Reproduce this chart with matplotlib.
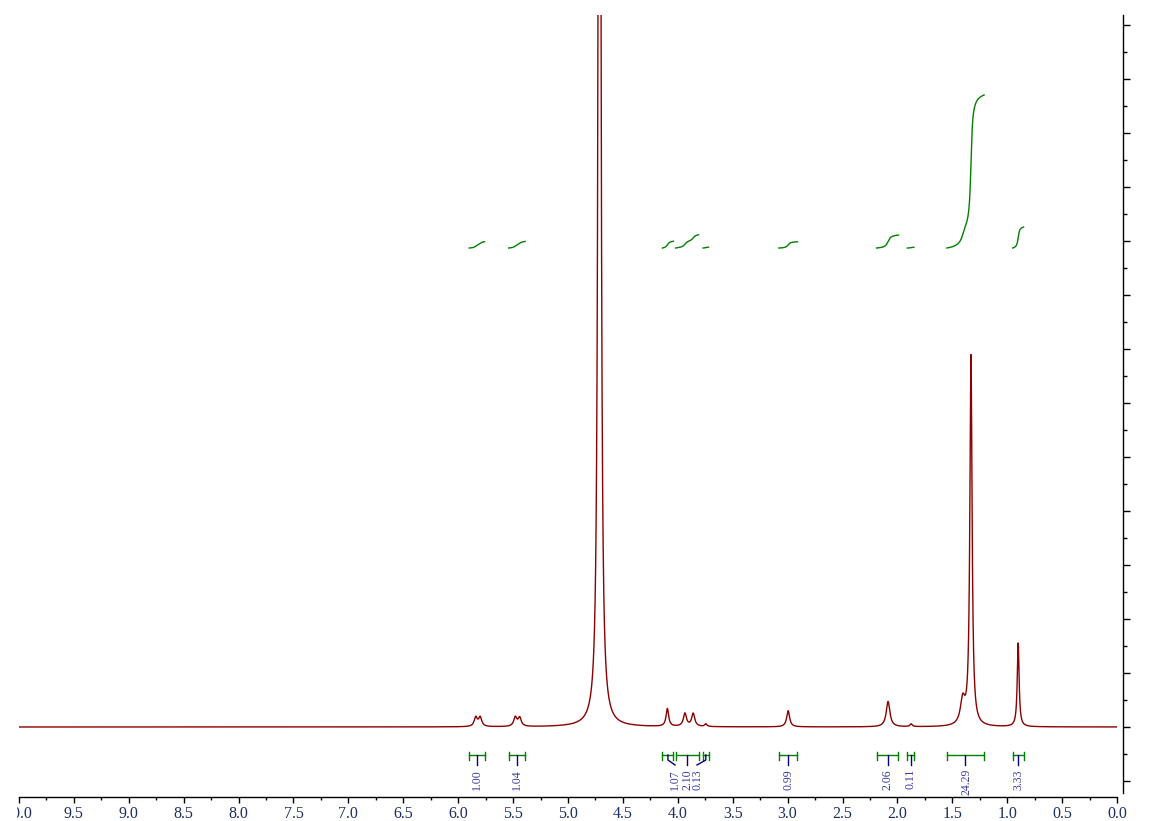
import numpy as np
import matplotlib
matplotlib.use("Agg")
import matplotlib.pyplot as plt
from matplotlib.ticker import MultipleLocator, FixedLocator
from matplotlib.transforms import Bbox, TransformedBbox

# ---- peak list (ppm, height in axis units, half-width in ppm) ----
peak_ppm = [5.84, 5.80, 5.48, 5.44, 4.713, 4.095, 3.935, 3.86, 3.745,
            2.995, 2.085, 1.875, 1.405, 1.33, 0.90]
peak_height = [0.17, 0.17, 0.17, 0.16, 40.0, 0.33, 0.24, 0.24, 0.05,
               0.30, 0.47, 0.05, 0.45, 6.85, 1.55]
peak_width = [0.017, 0.017, 0.017, 0.017, 0.010, 0.014, 0.017, 0.017, 0.012,
              0.016, 0.020, 0.012, 0.025, 0.012, 0.010]

# ---- integration regions ----
int_start = [5.90, 5.54, 4.14, 4.02, 3.77, 3.08, 2.19, 1.91, 1.55, 0.95]
int_end = [5.76, 5.39, 4.04, 3.81, 3.72, 2.91, 1.99, 1.85, 1.21, 0.85]
int_values = [1.00, 1.04, 1.07, 2.10, 0.13, 0.99, 2.06, 0.11, 24.29, 3.33]
int_labels = ["1.00", "1.04", "1.07", "2.10", "0.13", "0.99", "2.06", "0.11", "24.29", "3.33"]
label_ppm = [5.83, 5.465, 4.025, 3.916, 3.825, 2.995, 2.09, 1.88, 1.37, 0.90]

x_ticks = [10.0, 9.5, 9.0, 8.5, 8.0, 7.5, 7.0, 6.5, 6.0, 5.5, 5.0,
           4.5, 4.0, 3.5, 3.0, 2.5, 2.0, 1.5, 1.0, 0.5, 0.0]
x_ticklabels = ["10.0", "9.5", "9.0", "8.5", "8.0", "7.5", "7.0", "6.5", "6.0", "5.5", "5.0",
                "4.5", "4.0", "3.5", "3.0", "2.5", "2.0", "1.5", "1.0", "0.5", "0.0"]

W, H = 1155, 821
fig = plt.figure(figsize=(W / 100, H / 100), dpi=100)
ax = fig.add_axes([19 / W, 24 / H, (1117 - 19) / W, (797 - 15) / H])

ppm = np.linspace(10.0, 0.0, 20001)
spec = np.zeros_like(ppm)
for p, h, w in zip(peak_ppm, peak_height, peak_width):
    spec += h / (1.0 + ((ppm - p) / w) ** 2)

spec_color = "#8b0000"
ax.plot(ppm, spec, color=spec_color, lw=1.0, solid_joinstyle="round")

# integral curves
int_base = 8.87
px_per_unit = 54.0
int_scale = 6.3 / px_per_unit
green = "#008000"
for s, e, v in zip(int_start, int_end, int_values):
    m = (ppm <= s) & (ppm >= e)
    xs = ppm[m]
    ys = spec[m]
    cum = np.concatenate([[0], np.cumsum(0.5 * (ys[1:] + ys[:-1]) * np.abs(np.diff(xs)))])
    if cum[-1] > 0:
        cum = cum / cum[-1]
    ax.plot(xs, int_base + cum * v * int_scale, color=green, lw=1.0)

# integration brackets and labels
yb = (727 - 755) / px_per_unit
ytk_hi = (727 - 751.5) / px_per_unit
ytk_lo = (727 - 760) / px_per_unit
yblue = (727 - 765) / px_per_unit
ylab = (727 - 769) / px_per_unit
navy = "#000080"
lab_color = "#3a3aa0"
for s, e, lab, lx in zip(int_start, int_end, int_labels, label_ppm):
    ax.plot([s, e], [yb, yb], color=green, lw=1.0)
    ax.plot([s, s], [ytk_lo, ytk_hi], color=green, lw=1.0)
    ax.plot([e, e], [ytk_lo, ytk_hi], color=green, lw=1.0)
    c = 0.5 * (s + e)
    if abs(c - lx) < 0.01:
        ax.plot([c, c], [yb, yblue], color=navy, lw=1.0)
    else:
        ymid = (yb + yblue) / 2
        ax.plot([c, c, lx], [yb, ymid, yblue], color=navy, lw=1.0)
    ax.text(lx, ylab, lab, rotation=90, ha="center", va="top",
            fontsize=8.5, family="Liberation Serif", color=lab_color)

ax.set_xlim(10.0, 0.0)
ax.set_ylim((727 - 797) / px_per_unit, (727 - 15) / px_per_unit)

for sp in ["left", "top"]:
    ax.spines[sp].set_visible(False)
ax.spines["right"].set_position(("outward", 4.3))
ax.spines["right"].set_bounds((727 - 793) / px_per_unit, (727 - 15) / px_per_unit)
ax.spines["bottom"].set_linewidth(1.0)
ax.spines["right"].set_linewidth(1.0)

ax.xaxis.set_major_locator(FixedLocator(x_ticks))
ax.set_xticklabels(x_ticklabels)
ax.xaxis.set_minor_locator(MultipleLocator(0.25))
ax.tick_params(axis="x", which="major", direction="out", length=4.3, width=1.0,
               pad=2.5, labelsize=11.5, labelcolor="#1f2f5f")
ax.tick_params(axis="x", which="minor", direction="out", length=2.2, width=1.0)
clip = TransformedBbox(Bbox([[17 / W, 0], [1, 1]]), fig.transFigure)
for t in ax.get_xticklabels():
    t.set_family("Liberation Serif")
    t.set_clip_box(clip)
    t.set_clip_on(True)

ax.yaxis.set_ticks_position("right")
ax.yaxis.set_major_locator(MultipleLocator(1.0))
ax.yaxis.set_minor_locator(MultipleLocator(0.5))
ax.tick_params(axis="y", which="major", direction="out", length=5.0, width=1.0,
               labelright=False, labelleft=False)
ax.tick_params(axis="y", which="minor", direction="out", length=3.0, width=1.0)

fig.savefig("out.png", dpi=100)
